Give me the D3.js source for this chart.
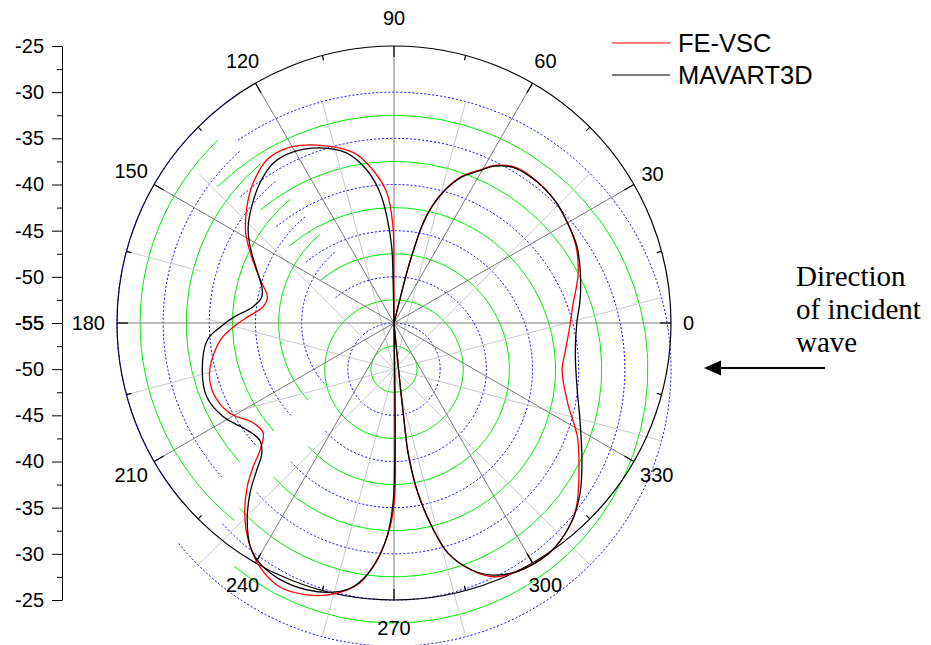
<!DOCTYPE html>
<html>
<head>
<meta charset="utf-8">
<script src="https://cdn.jsdelivr.net/npm/d3@7"></script>
<style>
body { margin: 0; background: #fff; }
svg text { font-family: "Liberation Sans", Arial, sans-serif; fill: #000; }
</style>
</head>
<body>
<svg id="polar" width="931" height="645"></svg>
<script>
// angle ticks (degrees) and radial ticks (dB)
var angleTicks = [0, 30, 60, 90, 120, 150, 180, 210, 240, 270, 300, 330];
var radialTicks = [-55, -50, -45, -40, -35, -30, -25];
var seriesNames = ['FE-VSC', 'MAVART3D'];

// FE-VSC
var feAngles = [0, 5, 15, 23, 30, 37, 45, 52, 57.2, 61, 65.2, 69, 72, 74, 74.8, 75.6, 76, 76.5, 83, 90,
	90.3, 90.6, 93.1, 97.8, 103.5, 113.4, 121.4, 127.9, 135.2, 141.7, 148.7, 155.1, 162.2, 168.4, 173,
	177.7, 181.4, 185.6, 194.3, 201.1, 208.8, 215.3, 220, 223.5, 225.6, 228.1, 231.9, 236.1, 241.2,
	246.6, 252.3, 257.3, 262.5, 265.9, 268.9, 270.3, 270.6, 271, 275.3, 275.6, 275.9, 276.2, 278,
	280.6, 283.2, 287.5, 291.7, 295.3, 300.4, 305.7, 312.1, 315.5, 321.5, 328.1, 335.3, 344.4, 350.4];
var feValues = [-35.9, -35.6, -34.35, -33.6, -33.3, -33.1, -33.2, -33.6, -34.7, -36.1, -37.5, -39.5, -41.7, -44.1, -46.3, -48.6, -52, -55, -55, -55,
	-50, -44.6, -40.9, -38.3, -36.0, -34.0, -32.8, -32.6, -33.5, -34.7, -36.2, -38.0, -39.8, -41.0, -40.7,
	-39.1, -37.6, -36.1, -34.4, -34.0, -34.7, -36.3, -36.5, -35.0, -33.2, -31.2, -28.8, -26.7, -24.85,
	-23.85, -24.1, -24.9, -26.6, -29.3, -32.9, -36.6, -42, -55, -55, -50, -44, -40.8, -36.4,
	-32.5, -29.4, -26.9, -25.4, -25.0, -24.85, -25.1, -26.2, -27.2, -29.4, -31.6, -34.3, -36.1, -36.2];

// MAVART3D
var mavAngles = [0, 7, 15, 23, 30, 37, 45, 52, 57.2, 61, 65.2, 69, 72, 74, 74.8, 75.6, 76, 76.5, 83, 91,
	91.2, 91.7, 93.8, 96.1, 100, 105.5, 113, 120.5, 127, 133.7, 140.8, 146.7, 152.2, 159, 165, 169,
	173.5, 178, 181.3, 185.2, 194, 201.6, 208.8, 216, 221, 224.6, 227, 229.7, 233.3, 237.3, 240.8,
	246, 252, 257.2, 261.2, 265.1, 268.1, 269.7, 270.4, 270.7, 271, 275.3, 275.6, 275.9, 276.2, 278,
	280.6, 283.2, 287.5, 291.3, 295.3, 300.4, 305.7, 312.1, 317.6, 323.9, 332.5, 340.7, 350.6];
var mavValues = [-35.2, -34.7, -34.1, -33.5, -33.3, -33.1, -33.25, -33.7, -34.8, -36.2, -37.6, -39.6, -41.8, -44.2, -46.4, -48.7, -52, -55, -55, -55,
	-51, -46.8, -43.5, -40.8, -38.2, -35.9, -34.4, -33.5, -33.3, -34.0, -35.1, -36.1, -37.4, -39.1, -40.2, -40.4,
	-39.6, -37.6, -36.2, -34.7, -33.6, -33.2, -33.9, -35.3, -35.7, -34.9, -33.2, -30.9, -28.4, -26.2, -25.2,
	-24.6, -24.6, -25.1, -26.1, -28.5, -31.8, -35.5, -40.9, -46, -55, -55, -50, -44, -40.8, -36.4,
	-32.5, -29.4, -26.95, -25.7, -25.06, -24.85, -25.1, -26.2, -27.7, -29.8, -32.3, -34.0, -35.1];

var svg = d3.select('#polar');
var cx = 394, cy = 323, R = 277;
var rScale = d3.scaleLinear().domain([-55, -25]).range([0, R]);
var toRad = Math.PI / 180;

// the grid rings and minor spokes sit one major step lower than the pole
var shift = rScale(-50);
var c1 = [cx, cy];
var c2 = [cx, cy + shift];

var ringLevels = d3.range(1, 13).map(k => -55 + 2.5 * k);
// left sector where the rings are drawn around the pole instead
var ringUpper = {4: 130, 5: 130, 6: 130, 7: 130, 8: 130, 9: 130, 10: 132, 11: 134, 12: 124.5};
var ringLower = {4: 222, 5: 222, 6: 222, 7: 222, 8: 222, 9: 222, 10: 222, 11: 231, 12: 219};

var arcPath = function(c, r, a0, a1) {
	var p = d3.path();
	var t0 = -a0 * toRad, t1 = -a1 * toRad;
	p.moveTo(c[0] + r * Math.cos(t0), c[1] + r * Math.sin(t0));
	p.arc(c[0], c[1], r, t0, t1, true);
	return p.toString();
}

var pt = function(c, r, a) {
	return [c[0] + r * Math.cos(a * toRad), c[1] - r * Math.sin(a * toRad)];
}

var grid = svg.append('g');

ringLevels.forEach(function(v, i) {
	var k = i + 1;
	var r = rScale(v);
	var green = k % 2 === 1;
	var paths = [];
	if (!ringUpper[k]) {
		paths.push(arcPath(c2, r, 0, 359.999));
	} else {
		paths.push(arcPath(c2, r, ringLower[k], ringUpper[k] + 360));
		if (k < 12) paths.push(arcPath(c1, r, ringUpper[k], ringLower[k]));
	}
	paths.forEach(function(d) {
		grid.append('path')
			.attr('d', d)
			.attr('fill', 'none')
			.attr('stroke', green ? '#00ee00' : '#0000ff')
			.attr('stroke-width', 1)
			.attr('stroke-dasharray', green ? null : '2,2');
	});
});

// minor spokes, light grey
var minorAngles = d3.range(15, 360, 30);
var minorCut = {165: [195, 200], 195: [175, 178]};
minorAngles.forEach(function(a) {
	var segs = [];
	if (minorCut[a]) {
		segs.push([pt(c2, 0, a), pt(c2, minorCut[a][0], a)]);
		segs.push([pt(c1, minorCut[a][1], a), pt(c1, R, a)]);
	} else {
		segs.push([pt(c2, 0, a), pt(c2, R, a)]);
	}
	segs.forEach(function(s) {
		grid.append('line')
			.attr('x1', s[0][0]).attr('y1', s[0][1])
			.attr('x2', s[1][0]).attr('y2', s[1][1])
			.attr('stroke', '#c8c8c8')
			.attr('stroke-width', 1);
	});
});

// major spokes
grid.selectAll('.spoke')
	.data(angleTicks)
	.enter()
	.append('line')
	.attr('class', 'spoke')
	.attr('x1', cx).attr('y1', cy)
	.attr('x2', d => pt(c1, R, d)[0])
	.attr('y2', d => pt(c1, R, d)[1])
	.attr('stroke', '#7a7a7a')
	.attr('stroke-width', 1);

// outer circle
svg.append('circle')
	.attr('cx', cx).attr('cy', cy).attr('r', R)
	.attr('fill', 'none')
	.attr('stroke', '#000')
	.attr('stroke-width', 1.2);
svg.append('path')
	.attr('d', arcPath(c1, R, ringUpper[12], ringLower[12]))
	.attr('fill', 'none')
	.attr('stroke', '#0000ff')
	.attr('stroke-width', 1)
	.attr('stroke-dasharray', '2,2');

// angular ticks
svg.selectAll('.atick')
	.data(d3.range(0, 360, 15))
	.enter()
	.append('line')
	.attr('class', 'atick')
	.attr('x1', d => pt(c1, R, d)[0])
	.attr('y1', d => pt(c1, R, d)[1])
	.attr('x2', d => pt(c1, R - (d % 30 === 0 ? 11 : 5), d)[0])
	.attr('y2', d => pt(c1, R - (d % 30 === 0 ? 11 : 5), d)[1])
	.attr('stroke', '#000')
	.attr('stroke-width', 1.2);

// angular labels
var alabels = svg.selectAll('.alabel')
	.data(angleTicks)
	.enter()
	.append('text')
	.attr('class', 'alabel')
	.attr('text-anchor', 'middle')
	.attr('dy', '0.35em')
	.style('font-size', '20px')
	.text(d => d);
alabels.each(function(d) {
	var w = this.getComputedTextLength();
	var c = Math.abs(Math.cos(d * toRad)), s = Math.abs(Math.sin(d * toRad));
	var rl = R + 12 + Math.max(w / 2 * c, 16 * s);
	var p = pt(c1, rl, d);
	d3.select(this).attr('x', p[0]).attr('y', p[1]);
});

// curves
var radial = d3.lineRadial()
	.angle(d => (90 - d[0]) * toRad)
	.radius(d => rScale(Math.max(d[1], -55)))
	.curve(d3.curveCatmullRomClosed.alpha(0.5));

var curves = [
	{name: seriesNames[0], color: '#ff0000', pts: d3.zip(feAngles, feValues)},
	{name: seriesNames[1], color: '#000000', pts: d3.zip(mavAngles, mavValues)}
];

svg.selectAll('.curve')
	.data(curves)
	.enter()
	.append('path')
	.attr('class', 'curve')
	.attr('transform', `translate(${cx}, ${cy})`)
	.attr('d', d => radial(d.pts))
	.attr('fill', 'none')
	.attr('stroke', d => d.color)
	.attr('stroke-width', 1.3);

// left radial axis, mirrored about the pole
var yTop = d3.scaleLinear().domain([-25, -55]).range([cy - R, cy]);
var yBot = d3.scaleLinear().domain([-55, -25]).range([cy, cy + R]);
var minorTicks = d3.range(-52.5, -25, 5);

[yTop, yBot].forEach(function(sc) {
	svg.append('g')
		.attr('transform', 'translate(62, 0)')
		.call(d3.axisLeft(sc).tickValues(radialTicks).tickSize(10).tickPadding(8).tickSizeOuter(0)
			.tickFormat(d => String(d)))
		.call(g => g.selectAll('text').style('font-size', '20px').attr('fill', '#000').style('font-family', '"Liberation Sans", Arial, sans-serif'))
		.call(g => g.select('.domain').attr('stroke', '#000'));
	svg.append('g')
		.attr('transform', 'translate(62, 0)')
		.call(d3.axisLeft(sc).tickValues(minorTicks).tickSize(5).tickFormat('').tickSizeOuter(0))
		.call(g => g.select('.domain').remove());
});

// legend
var legend = svg.append('g').attr('transform', 'translate(612, 0)');
curves.forEach(function(d, i) {
	var y = 43 + i * 32;
	legend.append('line')
		.attr('x1', 0).attr('x2', 58)
		.attr('y1', y).attr('y2', y)
		.attr('stroke', d.color)
		.attr('stroke-width', 1.2);
	legend.append('text')
		.attr('x', 66)
		.attr('y', y + 8.7)
		.style('font-size', '25.5px')
		.text(d.name);
});

// annotation
var note = svg.append('text')
	.attr('x', 796)
	.style('font-family', '"Liberation Serif", "Times New Roman", serif')
	.style('font-size', '29px');
['Direction', 'of incident', 'wave'].forEach(function(t, i) {
	note.append('tspan').attr('x', 796).attr('y', 286 + i * 33).text(t);
});

svg.append('line')
	.attr('x1', 825).attr('x2', 718)
	.attr('y1', 368).attr('y2', 368)
	.attr('stroke', '#000')
	.attr('stroke-width', 2);
svg.append('path')
	.attr('d', 'M704,368L721,360.5L721,375.5Z')
	.attr('fill', '#000');
</script>
</body>
</html>
